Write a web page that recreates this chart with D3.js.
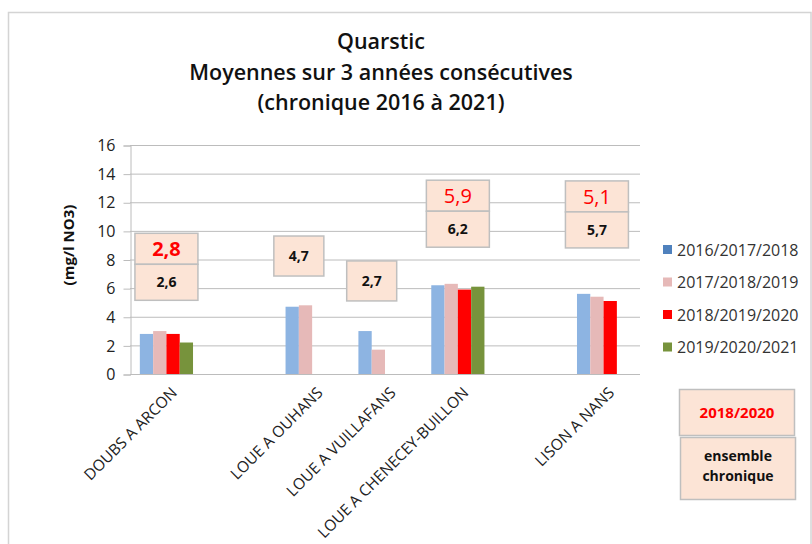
<!DOCTYPE html>
<html>
<head>
<meta charset="utf-8">
<script src="https://cdn.jsdelivr.net/npm/d3@7"></script>
<style>
  body { margin: 0; background: #fff; }
  svg { display: block; font-family: "Open Sans", sans-serif; }
</style>
</head>
<body>
<div id="chart"></div>
<script>
const width = 812;
const height = 544;

// stations (empty strings are the blank slots of the original category axis)
const stations = ["DOUBS A ARCON", "", "LOUE A OUHANS", "LOUE A VUILLAFANS", "LOUE A CHENECEY-BUILLON", "", "LISON A NANS"];
const periods = ["2016/2017/2018", "2017/2018/2019", "2018/2019/2020", "2019/2020/2021"];
const p1 = [2.8, null, 4.7, 3.0, 6.2, null, 5.6];
const p2 = [3.0, null, 4.8, 1.7, 6.3, null, 5.4];
const p3 = [2.8, null, null, null, 5.9, null, 5.1];
const p4 = [2.2, null, null, null, 6.1, null, null];
const series = [p1, p2, p3, p4];

// annotation boxes: mean 2018/2020 (red) and whole record (black)
const recent = ["2,8", null, null, null, "5,9", null, "5,1"];
const overall = ["2,6", null, "4,7", "2,7", "6,2", null, "5,7"];
const yTicks = [0, 2, 4, 6, 8, 10, 12, 14, 16];

// layout
const boxTop = [9.83, null, 9.64, 7.9, 13.54, null, 13.49]; // in mg/l units
const barColors = ["#8db4e2", "#e6b9b8", "#ff0000", "#77933c"];
const legendColors = ["#4f81bd", "#e6b9b8", "#ff0000", "#77933c"];
const boxFill = "#fce4d6";
const boxStroke = "#bfbfbf";
const margin = { left: 130, right: 640, top: 145, bottom: 374 };

const svg = d3.select("#chart").append("svg")
    .attr("width", width)
    .attr("height", height);

svg.append("rect")
    .attr("x", 8.5).attr("y", 12.5)
    .attr("width", 802.5).attr("height", 560)
    .attr("fill", "#fff")
    .attr("stroke", "#d4d4d4")
    .attr("stroke-width", 1.5);

// title
const titleLines = ["Quarstic", "Moyennes sur 3 années consécutives", "(chronique 2016 à 2021)"];
svg.append("g").selectAll("text")
    .data(titleLines)
    .join("text")
    .attr("x", 381)
    .attr("y", (d, i) => 49 + i * 30.5)
    .attr("text-anchor", "middle")
    .style("font-size", "21.5px")
    .style("font-weight", "600")
    .style("fill", "#111")
    .text(d => d);

const x = d3.scaleBand()
    .domain(d3.range(stations.length))
    .range([margin.left, margin.right])
    .paddingInner(0.27)
    .paddingOuter(0.135);

const xs = d3.scaleBand()
    .domain(d3.range(periods.length))
    .range([0, x.bandwidth()]);

const y = d3.scaleLinear()
    .domain([0, 16])
    .range([margin.bottom, margin.top]);

// gridlines
svg.append("g")
    .selectAll("line")
    .data(yTicks)
    .join("line")
    .attr("x1", margin.left)
    .attr("x2", margin.right)
    .attr("y1", d => y(d) + 0.5)
    .attr("y2", d => y(d) + 0.5)
    .attr("stroke", "#bcbcbc")
    .attr("stroke-width", 1);

// y axis
const yAxis = svg.append("g")
    .attr("transform", `translate(${margin.left + 0.5},0.5)`)
    .call(d3.axisLeft(y).tickValues(yTicks).tickSize(7).tickPadding(8).tickFormat(d3.format("d")));
yAxis.select(".domain").attr("stroke", "#bcbcbc");
yAxis.selectAll(".tick line").attr("stroke", "#bcbcbc");
yAxis.selectAll("text")
    .style("font-family", "'Open Sans', sans-serif")
    .style("font-size", "16px")
    .style("fill", "#222");

svg.append("text")
    .attr("transform", `translate(74,245) rotate(-90)`)
    .attr("text-anchor", "middle")
    .style("font-size", "15px")
    .style("font-weight", "bold")
    .style("fill", "#111")
    .text("(mg/l NO3)");

// bars
const barData = [];
series.forEach((s, k) => s.forEach((v, i) => {
    if (v != null) barData.push({ i, k, v });
}));

svg.append("g")
    .selectAll("rect")
    .data(barData)
    .join("rect")
    .attr("x", d => x(d.i) + xs(d.k))
    .attr("y", d => y(d.v))
    .attr("width", xs.bandwidth())
    .attr("height", d => y(0) - y(d.v))
    .attr("fill", d => barColors[d.k]);

// x labels
svg.append("g")
    .selectAll("text")
    .data(d3.range(stations.length).filter(i => stations[i] !== ""))
    .join("text")
    .attr("transform", i => `translate(${x(i) + x.bandwidth() / 2 + 4},386) rotate(-45)`)
    .attr("text-anchor", "end")
    .attr("dy", "0.7em")
    .style("font-size", "15.5px")
    .style("fill", "#222")
    .text(i => stations[i]);

// annotation boxes
const boxes = d3.range(stations.length).filter(i => overall[i] != null);
const boxG = svg.append("g").selectAll("g")
    .data(boxes)
    .join("g")
    .attr("transform", i => {
        const nBars = series.filter(s => s[i] != null).length;
        const cx = x(i) + nBars * xs.bandwidth() / 2;
        return `translate(${cx},${y(boxTop[i])})`;
    });

boxG.each(function(i) {
    const g = d3.select(this);
    if (recent[i] != null) {
        const w = 63;
        g.append("rect")
            .attr("x", -w / 2).attr("y", 0)
            .attr("width", w).attr("height", 31)
            .attr("fill", boxFill).attr("stroke", boxStroke).attr("stroke-width", 1.5);
        g.append("rect")
            .attr("x", -w / 2).attr("y", 31)
            .attr("width", w).attr("height", 36)
            .attr("fill", boxFill).attr("stroke", boxStroke).attr("stroke-width", 1.5);
        g.append("text")
            .attr("y", 23)
            .attr("text-anchor", "middle")
            .style("font-size", "20px")
            .style("font-weight", i === 0 ? "bold" : "normal")
            .style("fill", "#ff0000")
            .text(recent[i]);
        g.append("text")
            .attr("y", 54)
            .attr("text-anchor", "middle")
            .style("font-size", "14px")
            .style("font-weight", "bold")
            .style("fill", "#111")
            .text(overall[i]);
    } else {
        const w = 50;
        g.append("rect")
            .attr("x", -w / 2).attr("y", 0)
            .attr("width", w).attr("height", 40)
            .attr("fill", boxFill).attr("stroke", boxStroke).attr("stroke-width", 1.5);
        g.append("text")
            .attr("y", 25)
            .attr("text-anchor", "middle")
            .style("font-size", "14px")
            .style("font-weight", "bold")
            .style("fill", "#111")
            .text(overall[i]);
    }
});

// legend
const legend = svg.append("g")
    .selectAll("g")
    .data(periods)
    .join("g")
    .attr("transform", (d, k) => `translate(663,${250 + k * 32.5})`);

legend.append("rect")
    .attr("x", 0).attr("y", -5)
    .attr("width", 9).attr("height", 9)
    .attr("fill", (d, k) => legendColors[k]);

legend.append("text")
    .attr("x", 14)
    .attr("y", 0)
    .attr("dy", "0.35em")
    .style("font-size", "16px")
    .style("fill", "#333")
    .text(d => d);

// key boxes at bottom right
svg.append("rect")
    .attr("x", 679.5).attr("y", 389.5)
    .attr("width", 115).attr("height", 46)
    .attr("fill", boxFill).attr("stroke", boxStroke).attr("stroke-width", 1.5);
svg.append("text")
    .attr("x", 737).attr("y", 418)
    .attr("text-anchor", "middle")
    .style("font-size", "15px")
    .style("font-weight", "bold")
    .style("fill", "#ff0000")
    .text("2018/2020");

svg.append("rect")
    .attr("x", 680.5).attr("y", 437.5)
    .attr("width", 115).attr("height", 62)
    .attr("fill", boxFill).attr("stroke", boxStroke).attr("stroke-width", 1.5);
svg.append("g").selectAll("text")
    .data(["ensemble", "chronique"])
    .join("text")
    .attr("x", 738)
    .attr("y", (d, i) => 461 + i * 20)
    .attr("text-anchor", "middle")
    .style("font-size", "14px")
    .style("font-weight", "bold")
    .style("fill", "#111")
    .text(d => d);
</script>
</body>
</html>
